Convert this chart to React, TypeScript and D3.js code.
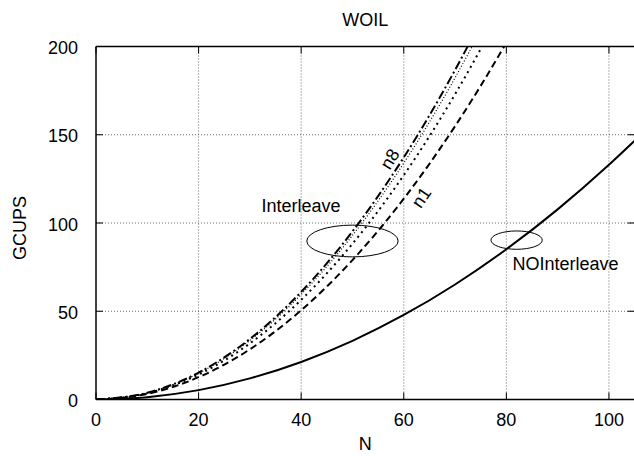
import React from "react";
import * as d3 from "d3";

const title = "WOIL";
const xLabel = "N";
const yLabel = "GCUPS";
const xTicks = [0, 20, 40, 60, 80, 100];
const yTicks = [0, 50, 100, 150, 200];
const nValues = [0, 10, 20, 30, 40, 50, 60, 70, 80, 90, 100, 105];

const noInterleave = [0, 1.33, 5.32, 11.97, 21.28, 33.25, 47.88, 65.17, 85.12, 107.73, 133.0, 146.6];
const interN1 = [0, 3.16, 12.64, 28.44, 50.56, 79.0, 113.76, 154.84, 202.24, 255.96, 316.0, 348.4];
const interN2 = [0, 3.53, 14.12, 31.77, 56.48, 88.25, 127.08, 172.97, 225.92, 285.93, 353.0, 389.2];
const interN4 = [0, 3.72, 14.88, 33.48, 59.52, 93.0, 133.92, 182.28, 238.08, 301.32, 372.0, 410.1];
const interN8 = [0, 3.81, 15.24, 34.29, 60.96, 95.25, 137.16, 186.69, 243.84, 308.61, 381.0, 420.0];

const series = [
  { name: "NOInterleave", values: noInterleave, dash: "none", width: 2 },
  { name: "n1", values: interN1, dash: "7,4", width: 2 },
  { name: "n2", values: interN2, dash: "2,4", width: 2 },
  { name: "n4", values: interN4, dash: "1,2", width: 1.2 },
  { name: "n8", values: interN8, dash: "9,3,2,3", width: 2 },
];

// ellipses: [centerN, centerValue, radiusN, radiusValue]
const ellipseInterleave = [50, 89.8, 8.9, 9.0];
const ellipseNoInterleave = [82, 90.3, 5.0, 5.2];

const FONT = "'Liberation Sans', Arial, Helvetica, sans-serif";

export default function App() {
  const W = 634, H = 456;
  const left = 96, right = 634.6, top = 46.5, bottom = 399.5;
  const x = d3.scaleLinear().domain([0, 105]).range([left, right]);
  const y = d3.scaleLinear().domain([0, 200]).range([bottom, top]);
  const line = d3
    .line<number>()
    .x((_, i) => x(nValues[i]))
    .y((d) => y(d))
    .curve(d3.curveMonotoneX);

  const tick = 7;
  const ell = (e: number[]) => ({
    cx: x(e[0]),
    cy: y(e[1]),
    rx: x(e[0] + e[2]) - x(e[0]),
    ry: y(e[1] - e[3]) - y(e[1]),
  });
  const e1 = ell(ellipseInterleave);
  const e2 = ell(ellipseNoInterleave);

  return (
    <svg width={W} height={H} style={{ position: "absolute", left: 0, top: 0 }} fontFamily={FONT}>
      <rect width={W} height={H} fill="white" />
      <defs>
        <clipPath id="plotclip">
          <rect x={left} y={top} width={right - left} height={bottom - top} />
        </clipPath>
      </defs>
      {/* grid */}
      {xTicks.slice(1).map((t) => (
        <line key={"gx" + t} x1={x(t)} x2={x(t)} y1={top} y2={bottom} stroke="#444" strokeWidth={0.8} strokeDasharray="1,2" />
      ))}
      {yTicks.slice(1, -1).map((t) => (
        <line key={"gy" + t} x1={left} x2={right} y1={y(t)} y2={y(t)} stroke="#444" strokeWidth={0.8} strokeDasharray="1,2" />
      ))}
      {/* ticks */}
      {xTicks.map((t) => (
        <g key={"tx" + t}>
          <line x1={x(t)} x2={x(t)} y1={bottom} y2={bottom - tick} stroke="black" strokeWidth={1} />
          <line x1={x(t)} x2={x(t)} y1={top} y2={top + tick} stroke="black" strokeWidth={1} />
          <text x={x(t)} y={426} fontSize={18} textAnchor="middle">{t}</text>
        </g>
      ))}
      {yTicks.map((t) => (
        <g key={"ty" + t}>
          <line x1={left} x2={left + tick} y1={y(t)} y2={y(t)} stroke="black" strokeWidth={1} />
          <line x1={right} x2={right - tick} y1={y(t)} y2={y(t)} stroke="black" strokeWidth={1} />
          <text x={78} y={y(t) + 7.5} fontSize={18} textAnchor="end">{t}</text>
        </g>
      ))}
      {/* curves */}
      <g clipPath="url(#plotclip)">
        {series.map((s) => (
          <path key={s.name} d={line(s.values) || ""} fill="none" stroke="black" strokeWidth={s.width}
            strokeDasharray={s.dash === "none" ? undefined : s.dash} />
        ))}
      </g>
      {/* border */}
      <line x1={left} x2={left} y1={top} y2={bottom} stroke="black" strokeWidth={1.5} />
      <line x1={left} x2={right} y1={bottom} y2={bottom} stroke="black" strokeWidth={1.5} />
      <line x1={left} x2={right} y1={top} y2={top} stroke="black" strokeWidth={1.5} />
      {/* annotations */}
      <ellipse cx={e1.cx} cy={e1.cy} rx={e1.rx} ry={e1.ry} fill="none" stroke="black" strokeWidth={1} />
      <ellipse cx={e2.cx} cy={e2.cy} rx={e2.rx} ry={e2.ry} fill="none" stroke="black" strokeWidth={1} />
      <text x={261.5} y={211.5} fontSize={18}>Interleave</text>
      <text x={512.5} y={270} fontSize={18}>NOInterleave</text>
      <text x={0} y={0} fontSize={18} textAnchor="middle" dominantBaseline="central"
        transform={`translate(390,159) rotate(-58)`}>n8</text>
      <text x={0} y={0} fontSize={18} textAnchor="middle" dominantBaseline="central"
        transform={`translate(421.5,197.5) rotate(-56)`}>n1</text>
      {/* titles */}
      <text x={(left + right) / 2} y={26} fontSize={18} textAnchor="middle">{title}</text>
      <text x={(left + right) / 2} y={450} fontSize={18} textAnchor="middle">{xLabel}</text>
      <text x={0} y={0} fontSize={18} textAnchor="middle" transform={`translate(26,228) rotate(-90)`}>{yLabel}</text>
    </svg>
  );
}
